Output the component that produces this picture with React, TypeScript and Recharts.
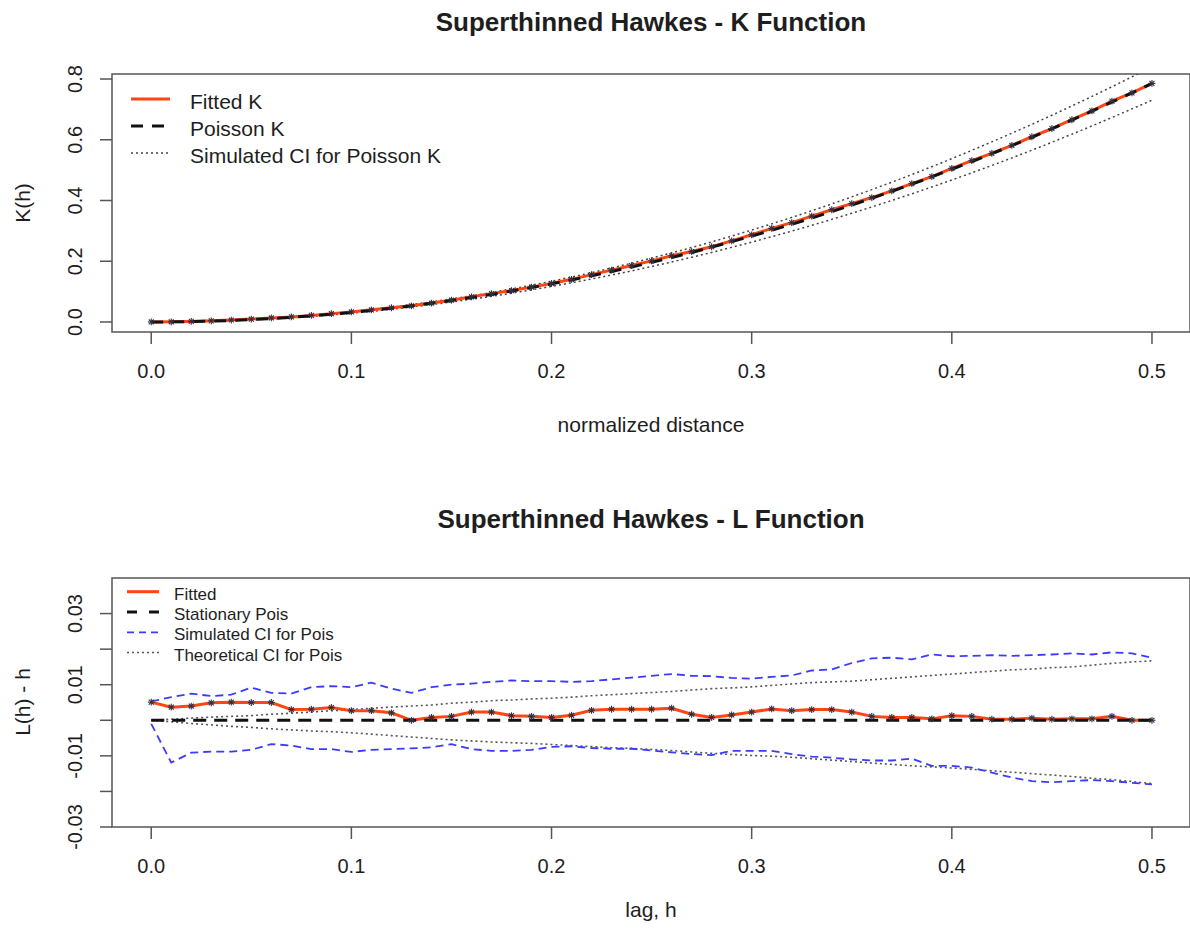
import React from 'react';
import { LineChart, Line, XAxis, YAxis, ReferenceArea, Legend } from 'recharts';

// lag / normalized distance grid
const lags = [
  0, 0.01, 0.02, 0.03, 0.04, 0.05, 0.06, 0.07, 0.08, 0.09,
  0.1, 0.11, 0.12, 0.13, 0.14, 0.15, 0.16, 0.17, 0.18, 0.19,
  0.2, 0.21, 0.22, 0.23, 0.24, 0.25, 0.26, 0.27, 0.28, 0.29,
  0.3, 0.31, 0.32, 0.33, 0.34, 0.35, 0.36, 0.37, 0.38, 0.39,
  0.4, 0.41, 0.42, 0.43, 0.44, 0.45, 0.46, 0.47, 0.48, 0.49, 0.5,
];

// K function panel
const poissonK = [
  0, 0.0003, 0.0013, 0.0028, 0.005, 0.0079, 0.0113, 0.0154, 0.0201, 0.0254,
  0.0314, 0.038, 0.0452, 0.0531, 0.0616, 0.0707, 0.0804, 0.0908, 0.1018, 0.1134,
  0.1257, 0.1385, 0.1521, 0.1662, 0.181, 0.1963, 0.2124, 0.229, 0.2463, 0.2642,
  0.2827, 0.3019, 0.3217, 0.3421, 0.3632, 0.3848, 0.4072, 0.4301, 0.4536, 0.4778,
  0.5027, 0.5281, 0.5542, 0.5809, 0.6082, 0.6362, 0.6648, 0.694, 0.7238, 0.7543, 0.7854,
];
const fittedK = [
  0.0001, 0.0006, 0.0018, 0.0038, 0.0064, 0.0095, 0.0133, 0.0167, 0.0217, 0.0275,
  0.0331, 0.0399, 0.0468, 0.0531, 0.0623, 0.0717, 0.0828, 0.0933, 0.1033, 0.1147,
  0.1267, 0.1404, 0.1559, 0.1707, 0.1857, 0.2013, 0.218, 0.2319, 0.2477, 0.2669,
  0.2871, 0.3082, 0.3272, 0.3484, 0.3696, 0.3899, 0.4097, 0.4319, 0.4556, 0.4788,
  0.5059, 0.531, 0.555, 0.5817, 0.6099, 0.637, 0.6659, 0.6952, 0.7271, 0.7543, 0.7854,
];
const simKUpper = [
  0, 0.0005, 0.0017, 0.0034, 0.0058, 0.0089, 0.0126, 0.017, 0.0221, 0.0277,
  0.0341, 0.0411, 0.0488, 0.0572, 0.0662, 0.0758, 0.0861, 0.0971, 0.1088, 0.1211,
  0.1342, 0.148, 0.1625, 0.1777, 0.1936, 0.2101, 0.2273, 0.2451, 0.2636, 0.2828,
  0.3026, 0.3231, 0.3443, 0.3661, 0.3887, 0.4118, 0.4357, 0.4602, 0.4854, 0.5113,
  0.5379, 0.5651, 0.593, 0.6216, 0.6508, 0.6807, 0.7113, 0.7426, 0.7745, 0.8071, 0.8404,
];
const simKLower = [
  0, 0.0001, 0.0009, 0.0023, 0.0043, 0.007, 0.0101, 0.0139, 0.0183, 0.0232,
  0.0288, 0.035, 0.0418, 0.0492, 0.0571, 0.0657, 0.0748, 0.0845, 0.0948, 0.1057,
  0.117, 0.129, 0.1415, 0.1546, 0.1683, 0.1826, 0.1975, 0.213, 0.229, 0.2457,
  0.2629, 0.2808, 0.2992, 0.3182, 0.3378, 0.3579, 0.3787, 0.4, 0.4219, 0.4444,
  0.4675, 0.4912, 0.5154, 0.5402, 0.5656, 0.5917, 0.6183, 0.6454, 0.6732, 0.7015, 0.7304,
];

// L function panel (L(h) - h)
const fittedL = [
  0.0051, 0.0037, 0.004, 0.0049, 0.0051, 0.005, 0.005, 0.003, 0.0031, 0.0036,
  0.0027, 0.0027, 0.0021, 0, 0.0008, 0.0011, 0.0023, 0.0023, 0.0013, 0.0011,
  0.0008, 0.0014, 0.0028, 0.0031, 0.0031, 0.0031, 0.0034, 0.0017, 0.0008, 0.0015,
  0.0023, 0.0032, 0.0027, 0.003, 0.003, 0.0023, 0.0011, 0.0008, 0.0008, 0.0004,
  0.0013, 0.0011, 0.0003, 0.0003, 0.0006, 0.0003, 0.0004, 0.0004, 0.0011, 0, 0,
];
const stationaryL = [
  0, 0, 0, 0, 0, 0, 0, 0, 0, 0, 0, 0, 0, 0, 0, 0, 0, 0, 0, 0, 0, 0, 0, 0, 0, 0,
  0, 0, 0, 0, 0, 0, 0, 0, 0, 0, 0, 0, 0, 0, 0, 0, 0, 0, 0, 0, 0, 0, 0, 0, 0,
];
const simLUpper = [
  0.0053, 0.0065, 0.0075, 0.0068, 0.0072, 0.0092, 0.0077, 0.0075, 0.0093, 0.0096,
  0.0093, 0.0106, 0.0089, 0.0077, 0.0093, 0.01, 0.0103, 0.0108, 0.0112, 0.011,
  0.011, 0.0108, 0.011, 0.0115, 0.012, 0.0125, 0.013, 0.0125, 0.0124, 0.0119,
  0.0117, 0.0122, 0.0126, 0.014, 0.0143, 0.0161, 0.0174, 0.0176, 0.0171, 0.0185,
  0.018, 0.0181, 0.0183, 0.0181, 0.0183, 0.0185, 0.0188, 0.0185, 0.0191, 0.0188, 0.0176,
];
const simLLower = [
  -0.001, -0.0119, -0.0091, -0.0088, -0.0088, -0.0083, -0.0067, -0.0071, -0.0081, -0.0081,
  -0.0089, -0.0083, -0.0081, -0.0079, -0.0076, -0.0067, -0.0081, -0.0086, -0.0086, -0.0083,
  -0.0075, -0.0073, -0.0078, -0.008, -0.008, -0.0085, -0.009, -0.0095, -0.0098, -0.0086,
  -0.0086, -0.0086, -0.0095, -0.0102, -0.0105, -0.011, -0.0113, -0.0113, -0.0108, -0.0128,
  -0.0128, -0.0133, -0.0147, -0.0161, -0.0171, -0.0174, -0.0171, -0.0168, -0.0171, -0.0176, -0.018,
];
const theoLUpper = [
  0, 0.0003, 0.0006, 0.0009, 0.0011, 0.0013, 0.0017, 0.002, 0.0023, 0.0027,
  0.003, 0.0034, 0.0037, 0.004, 0.0043, 0.0048, 0.0051, 0.0055, 0.0057, 0.006,
  0.0062, 0.0065, 0.0069, 0.0072, 0.0075, 0.0078, 0.0081, 0.0085, 0.0089, 0.0091,
  0.0094, 0.0098, 0.0102, 0.0106, 0.0108, 0.011, 0.0114, 0.0118, 0.0122, 0.0126,
  0.013, 0.0134, 0.0138, 0.0142, 0.0144, 0.0148, 0.015, 0.0155, 0.016, 0.0164, 0.0167,
];
const theoLLower = [
  0, -0.0004, -0.0009, -0.0013, -0.0017, -0.002, -0.0024, -0.0027, -0.003, -0.0032,
  -0.0035, -0.0039, -0.0043, -0.0047, -0.0051, -0.0055, -0.0058, -0.0061, -0.0063, -0.0065,
  -0.0068, -0.0071, -0.0074, -0.0077, -0.0079, -0.0082, -0.0085, -0.0089, -0.0093, -0.0096,
  -0.0099, -0.0101, -0.0104, -0.0108, -0.0112, -0.0116, -0.012, -0.0124, -0.0128, -0.0131,
  -0.0134, -0.0138, -0.0142, -0.0146, -0.015, -0.0154, -0.0158, -0.0163, -0.0167, -0.0172, -0.0178,
];

const xTicks = [0, 0.1, 0.2, 0.3, 0.4, 0.5];
const kTicks = [0, 0.2, 0.4, 0.6, 0.8];
const lTicks = [-0.03, -0.02, -0.01, 0, 0.01, 0.02, 0.03];
const lLabelled = [-0.03, -0.01, 0.01, 0.03];

const kData = lags.map((h, i) => ({
  h, fitted: fittedK[i], poisson: poissonK[i], upper: simKUpper[i], lower: simKLower[i],
}));
const lData = lags.map((h, i) => ({
  h, fitted: fittedL[i], stat: stationaryL[i], simUp: simLUpper[i], simLo: simLLower[i],
  theoUp: theoLUpper[i], theoLo: theoLLower[i],
}));

const FONT = '"Liberation Sans", Arial, Helvetica, sans-serif';
const INK = '#1e1e1e';
const BOX = '#555';
const RED = '#ff4513';
const BLUE = '#3b3bff';
const W = 1190;
const X_DOMAIN = [-0.0196, 0.519];
const K_DOMAIN = [-0.033, 0.8165];
const L_DOMAIN = [-0.03, 0.04];

const XTick = (props: any) => {
  const { x, y, payload } = props;
  return (
    <text x={x} y={y + 34} textAnchor="middle" fontFamily={FONT} fontSize={20} fill={INK}>
      {Number(payload.value).toFixed(1)}
    </text>
  );
};

const YTick = (props: any) => {
  const { y, payload, digits, only } = props;
  const v = Number(payload.value);
  if (only && !only.some((o: number) => Math.abs(o - v) < 1e-9)) return <g />;
  const bx = 82;
  return (
    <text x={bx} y={y} transform={`rotate(-90 ${bx} ${y})`} textAnchor="middle"
      fontFamily={FONT} fontSize={20} fill={INK}>
      {v.toFixed(digits)}
    </text>
  );
};

const Star = (props: any) => {
  const { cx, cy, index } = props;
  if (cx == null || cy == null) return <g key={`s${index}`} />;
  const r = 3.4;
  const d = r * 0.72;
  return (
    <g key={`s${index}`} stroke="#2f3040" strokeWidth={1.1}>
      <line x1={cx - r} y1={cy} x2={cx + r} y2={cy} />
      <line x1={cx} y1={cy - r} x2={cx} y2={cy + r} />
      <line x1={cx - d} y1={cy - d} x2={cx + d} y2={cy + d} />
      <line x1={cx - d} y1={cy + d} x2={cx + d} y2={cy - d} />
    </g>
  );
};

type Item = { label: string; color: string; width: number; dash?: string };

const legendK: Item[] = [
  { label: 'Fitted K', color: RED, width: 3 },
  { label: 'Poisson K', color: '#111', width: 3, dash: '12 9' },
  { label: 'Simulated CI for Poisson K', color: '#444', width: 1.5, dash: '2 3' },
];
const legendL: Item[] = [
  { label: 'Fitted', color: RED, width: 3 },
  { label: 'Stationary Pois', color: '#111', width: 3, dash: '10 12' },
  { label: 'Simulated CI for Pois', color: BLUE, width: 1.8, dash: '7 5' },
  { label: 'Theoretical CI for Pois', color: '#555', width: 1.5, dash: '2 3' },
];

const LegendBlock = ({ items, x1, x2, tx, y0, step, size, base }: any) => (
  <svg width={600} height={240} style={{ overflow: 'visible', display: 'block' }}>
    {items.map((it: Item, i: number) => {
      const y = y0 + i * step;
      return (
        <g key={it.label}>
          <line x1={x1} x2={x2} y1={y} y2={y} stroke={it.color} strokeWidth={it.width}
            strokeDasharray={it.dash} />
          <text x={tx} y={y + base} fontFamily={FONT} fontSize={size} fill={INK}>{it.label}</text>
        </g>
      );
    })}
  </svg>
);

const commonAxis = { tickSize: 12, tickMargin: 0, axisLine: false, tickLine: { stroke: BOX, strokeWidth: 1.5 } };

function KPanel() {
  return (
    <LineChart width={W} height={460} data={kData} margin={{ top: 74, right: 0, bottom: 68, left: 0 }}>
      <XAxis type="number" dataKey="h" domain={X_DOMAIN} ticks={xTicks} allowDataOverflow height={60}
        interval={0} tick={<XTick />} {...commonAxis} />
      <YAxis type="number" domain={K_DOMAIN} ticks={kTicks} allowDataOverflow width={112}
        interval={0} tick={<YTick digits={1} />} {...commonAxis} />
      <ReferenceArea x1={X_DOMAIN[0]} x2={X_DOMAIN[1]} y1={K_DOMAIN[0]} y2={K_DOMAIN[1]}
        fill="none" stroke={BOX} strokeWidth={1.5} ifOverflow="visible" />
      <Line dataKey="upper" stroke="#444" strokeWidth={1.5} strokeDasharray="2 3" dot={false}
        activeDot={false} isAnimationActive={false} />
      <Line dataKey="lower" stroke="#444" strokeWidth={1.5} strokeDasharray="2 3" dot={false}
        activeDot={false} isAnimationActive={false} />
      <Line dataKey="fitted" stroke={RED} strokeWidth={3} dot={false} activeDot={false}
        isAnimationActive={false} />
      <Line dataKey="poisson" stroke="#111" strokeWidth={3} strokeDasharray="12 9" dot={false}
        activeDot={false} isAnimationActive={false} />
      <Line dataKey="fitted" name="points" stroke="none" dot={Star} activeDot={false}
        isAnimationActive={false} />
      <Legend layout="vertical" align="center" verticalAlign="middle"
        wrapperStyle={{ left: 0, top: 0, width: 600, height: 240 }}
        content={() => (
          <LegendBlock items={legendK} x1={131} x2={170} tx={190} y0={99} step={27} size={21} base={9.5} />
        )} />
    </LineChart>
  );
}

function LPanel() {
  return (
    <LineChart width={W} height={475} data={lData} margin={{ top: 118, right: 0, bottom: 48, left: 0 }}>
      <XAxis type="number" dataKey="h" domain={X_DOMAIN} ticks={xTicks} allowDataOverflow height={60}
        interval={0} tick={<XTick />} {...commonAxis} />
      <YAxis type="number" domain={L_DOMAIN} ticks={lTicks} allowDataOverflow width={112}
        interval={0} tick={<YTick digits={2} only={lLabelled} />} {...commonAxis} />
      <ReferenceArea x1={X_DOMAIN[0]} x2={X_DOMAIN[1]} y1={L_DOMAIN[0]} y2={L_DOMAIN[1]}
        fill="none" stroke={BOX} strokeWidth={1.5} ifOverflow="visible" />
      <Line dataKey="theoUp" stroke="#555" strokeWidth={1.6} strokeDasharray="2 3" dot={false}
        activeDot={false} isAnimationActive={false} />
      <Line dataKey="theoLo" stroke="#555" strokeWidth={1.6} strokeDasharray="2 3" dot={false}
        activeDot={false} isAnimationActive={false} />
      <Line dataKey="simUp" stroke={BLUE} strokeWidth={1.8} strokeDasharray="8 5" dot={false}
        activeDot={false} isAnimationActive={false} />
      <Line dataKey="simLo" stroke={BLUE} strokeWidth={1.8} strokeDasharray="8 5" dot={false}
        activeDot={false} isAnimationActive={false} />
      <Line dataKey="fitted" stroke={RED} strokeWidth={3} dot={false} activeDot={false}
        isAnimationActive={false} />
      <Line dataKey="stat" stroke="#111" strokeWidth={3} strokeDasharray="13 8" dot={false}
        activeDot={false} isAnimationActive={false} />
      <Line dataKey="fitted" name="points" stroke="none" dot={Star} activeDot={false}
        isAnimationActive={false} />
      <Legend layout="vertical" align="center" verticalAlign="middle"
        wrapperStyle={{ left: 0, top: 0, width: 600, height: 240 }}
        content={() => (
          <LegendBlock items={legendL} x1={127} x2={159} tx={174} y0={131.7} step={20.3} size={17} base={8} />
        )} />
    </LineChart>
  );
}

export default function App() {
  const txt = { fontFamily: FONT, fill: INK } as const;
  return (
    <div style={{ position: 'absolute', left: 0, top: 0, width: W, height: 935, overflow: 'hidden', background: '#fff' }}>
      <div style={{ position: 'absolute', left: 0, top: 0 }}>
        <KPanel />
      </div>
      <div style={{ position: 'absolute', left: 0, top: 460 }}>
        <LPanel />
      </div>
      <svg width={W} height={935} style={{ position: 'absolute', left: 0, top: 0, pointerEvents: 'none' }}>
        <text x={651} y={31} textAnchor="middle" fontSize={26} fontWeight="bold" {...txt}>
          Superthinned Hawkes - K Function
        </text>
        <text x={651} y={432} textAnchor="middle" fontSize={21} {...txt}>normalized distance</text>
        <text x={30} y={203} transform="rotate(-90 30 203)" textAnchor="middle" fontSize={21} {...txt}>K(h)</text>
        <text x={651} y={528} textAnchor="middle" fontSize={26} fontWeight="bold" {...txt}>
          Superthinned Hawkes - L Function
        </text>
        <text x={651} y={917} textAnchor="middle" fontSize={21} {...txt}>lag, h</text>
        <text x={30} y={702} transform="rotate(-90 30 702)" textAnchor="middle" fontSize={21} {...txt}>L(h) - h</text>
      </svg>
    </div>
  );
}
